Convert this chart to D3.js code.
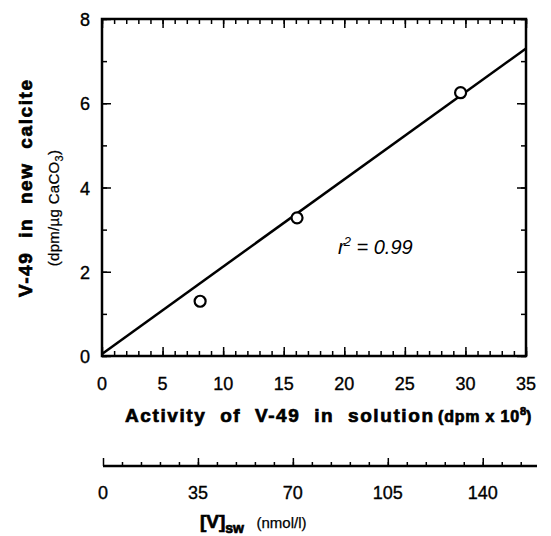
<!DOCTYPE html>
<html>
<head>
<meta charset="utf-8">
<script src="https://cdn.jsdelivr.net/npm/d3@7"></script>
<style>
  body { margin: 0; background: #fff; }
  text { font-family: "Liberation Sans", Arial, sans-serif; fill: #000; white-space: pre; }
  .num { stroke: #000; stroke-width: 0.35; }
  .heavy { font-weight: bold; stroke: #000; stroke-width: 0.7; }
</style>
</head>
<body>
<div id="chart"></div>
<script>
var activity = [8.1, 16.1, 29.6];
var calcite = [1.3, 3.28, 6.25];
var fitX = [0, 35];
var fitY = [0.05, 7.3];
var xTicks = [0, 5, 10, 15, 20, 25, 30, 35];
var yTicks = [0, 2, 4, 6, 8];
var swTicks = [0, 35, 70, 105, 140];

var width = 551, height = 536;

var svg = d3.select("#chart").append("svg")
    .attr("width", width)
    .attr("height", height);

var x = d3.scaleLinear().domain([0, 35]).range([102, 526]);
var y = d3.scaleLinear().domain([0, 8]).range([356, 19]);
var xsw = d3.scaleLinear().domain([0, 160]).range([103, 537]);

// inward ticks on all four sides
function ticks(g, axis) { g.call(axis).select(".domain").remove(); g.selectAll("line").attr("stroke-width", 1.5); }

svg.append("g").attr("transform", "translate(0,356)")
    .call(ticks, d3.axisTop(x).tickValues(d3.range(0, 36, 1)).tickSize(5).tickFormat(""));
svg.append("g").attr("transform", "translate(0,356)")
    .call(ticks, d3.axisTop(x).tickValues(xTicks).tickSize(9).tickFormat(""));
svg.append("g").attr("transform", "translate(0,19)")
    .call(ticks, d3.axisBottom(x).tickValues(d3.range(0, 36, 1)).tickSize(5).tickFormat(""));
svg.append("g").attr("transform", "translate(0,19)")
    .call(ticks, d3.axisBottom(x).tickValues(xTicks).tickSize(9).tickFormat(""));
svg.append("g").attr("transform", "translate(102,0)")
    .call(ticks, d3.axisRight(y).tickValues(d3.range(0, 9, 1)).tickSize(5).tickFormat(""));
svg.append("g").attr("transform", "translate(102,0)")
    .call(ticks, d3.axisRight(y).tickValues(yTicks).tickSize(9).tickFormat(""));
svg.append("g").attr("transform", "translate(526,0)")
    .call(ticks, d3.axisLeft(y).tickValues(d3.range(0, 9, 1)).tickSize(5).tickFormat(""));
svg.append("g").attr("transform", "translate(526,0)")
    .call(ticks, d3.axisLeft(y).tickValues(yTicks).tickSize(9).tickFormat(""));

svg.append("rect")
    .attr("x", 102).attr("y", 19)
    .attr("width", 424).attr("height", 337)
    .attr("fill", "none").attr("stroke", "#000").attr("stroke-width", 2.5);

// tick labels
svg.append("g").selectAll("text").data(xTicks).enter().append("text")
    .attr("class", "num")
    .attr("x", function(d) { return x(d); })
    .attr("y", 390)
    .attr("text-anchor", "middle")
    .attr("font-size", 18)
    .text(function(d) { return d; });

svg.append("g").selectAll("text").data(yTicks).enter().append("text")
    .attr("class", "num")
    .attr("x", 90)
    .attr("y", function(d) { return y(d) + 7; })
    .attr("text-anchor", "end")
    .attr("font-size", 18)
    .text(function(d) { return d; });

// regression line
var line = d3.line()
    .x(function(d) { return x(d[0]); })
    .y(function(d) { return y(d[1]); });
svg.append("path")
    .datum(d3.zip(fitX, fitY))
    .attr("d", line)
    .attr("fill", "none")
    .attr("stroke", "#000")
    .attr("stroke-width", 2.5);

// data points
svg.append("g").selectAll("circle").data(d3.zip(activity, calcite)).enter().append("circle")
    .attr("cx", function(d) { return x(d[0]); })
    .attr("cy", function(d) { return y(d[1]); })
    .attr("r", 5.5)
    .attr("fill", "#fff")
    .attr("stroke", "#000")
    .attr("stroke-width", 2.2);

// r^2 label
var r2 = svg.append("text")
    .attr("x", 338).attr("y", 254)
    .attr("font-size", 20)
    .attr("font-style", "italic");
r2.append("tspan").text("r");
r2.append("tspan").attr("dy", -8).attr("dx", -1).attr("font-size", 13).text("2");
r2.append("tspan").attr("dy", 8).text(" = 0.99");

// x axis title
svg.append("text")
    .attr("class", "heavy")
    .attr("x", 125).attr("y", 422)
    .attr("font-size", 19)
    .attr("textLength", 308)
    .attr("lengthAdjust", "spacing")
    .text("Activity  of  V-49  in  solution");

var xt = svg.append("text")
    .attr("class", "heavy")
    .attr("x", 438).attr("y", 422)
    .attr("font-size", 16)
    .attr("stroke-width", 0.4)
    .attr("letter-spacing", 0.8);
xt.append("tspan").text("(dpm x 10");
xt.append("tspan").attr("font-size", 11).attr("dy", -7).attr("letter-spacing", 0).text("8");
xt.append("tspan").attr("dy", 7).attr("letter-spacing", 0).text(")");

// y axis titles
svg.append("text")
    .attr("class", "heavy")
    .attr("transform", "translate(32,297) rotate(-90)")
    .attr("font-size", 19)
    .attr("textLength", 217)
    .attr("lengthAdjust", "spacing")
    .text("V-49  in  new  calcite");

var yt = svg.append("text")
    .attr("transform", "translate(59,208) rotate(-90)")
    .attr("text-anchor", "middle")
    .attr("font-size", 15)
    .attr("stroke", "#000")
    .attr("stroke-width", 0.25)
    .attr("letter-spacing", 0.3);
yt.append("tspan").text("(dpm/µg CaCO");
yt.append("tspan").attr("font-size", 11).attr("dy", 4).text("3");
yt.append("tspan").attr("dy", -4).text(")");

// secondary axis, seawater concentration
var swg = svg.append("g").attr("transform", "translate(0,466)");
swg.append("line")
    .attr("x1", xsw(0)).attr("x2", xsw(160))
    .attr("stroke", "#000").attr("stroke-width", 2.5);
swg.append("g").call(ticks, d3.axisTop(xsw).tickValues(d3.range(7, 157, 7)).tickSize(4).tickFormat(""));
swg.append("g").call(ticks, d3.axisTop(xsw).tickValues(swTicks).tickSize(8).tickFormat(""));

svg.append("g").selectAll("text").data(swTicks).enter().append("text")
    .attr("class", "num")
    .attr("x", function(d) { return xsw(d); })
    .attr("y", 499)
    .attr("text-anchor", "middle")
    .attr("font-size", 18)
    .text(function(d) { return d; });

var sw = svg.append("text")
    .attr("x", 200).attr("y", 528)
    .attr("font-size", 18);
sw.append("tspan").attr("class", "heavy").attr("font-size", 19).text("[V]");
sw.append("tspan").attr("class", "heavy").attr("font-size", 14).attr("dy", 5).text("sw");
sw.append("tspan").attr("dy", -5).attr("font-size", 15).attr("stroke", "#000").attr("stroke-width", 0.25).text("   (nmol/l)");
</script>
</body>
</html>
